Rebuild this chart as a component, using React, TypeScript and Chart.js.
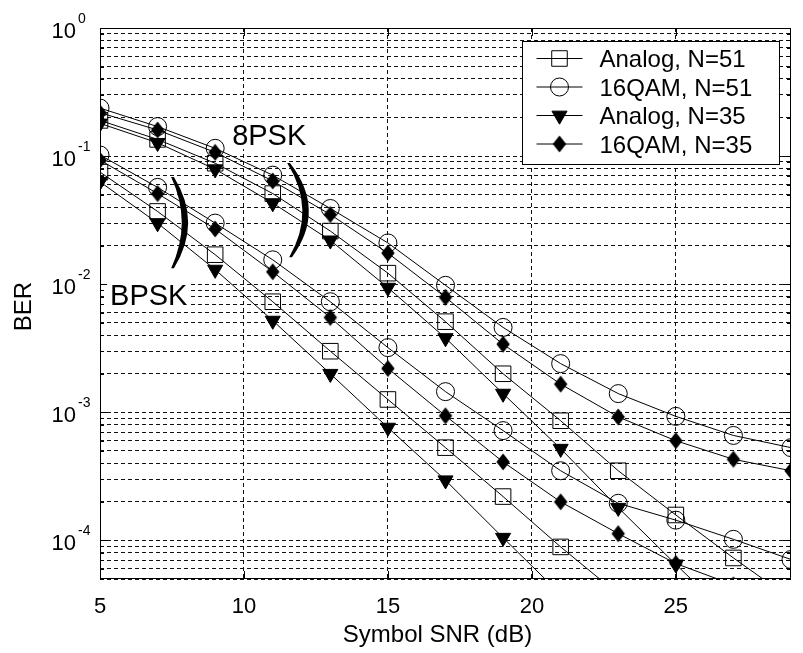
import React, { useEffect, useRef } from "react";
import { Chart, registerables } from "chart.js";

Chart.register(...registerables);

// ---------------- data ----------------
const SNR_DB = [5, 7, 9, 11, 13, 15, 17, 19, 21, 23, 25, 27, 29];
const X_TICKS = [5, 10, 15, 20, 25];
const X_MIN = 5;
const X_MAX = 29;
const Y_MIN = 5e-5;
const Y_MAX = 1;
const Y_LABEL_EXPONENTS = [0, -1, -2, -3, -4];

const SERIES_LABELS = ["Analog, N=51", "16QAM, N=51", "Analog, N=35", "16QAM, N=35"];

// BPSK group (lower curves)
const BPSK_ANALOG_N51 = [0.075, 0.037, 0.017, 0.0073, 0.003, 0.00126, 0.00053, 0.00022, 8.9e-5, 3.8e-5];
const BPSK_16QAM_N51 = [0.102, 0.057, 0.03, 0.0155, 0.0073, 0.0032, 0.00145, 0.00072, 0.00035, 0.000195, 0.000144, 0.000102, 7.1e-5];
const BPSK_ANALOG_N35 = [0.063, 0.03, 0.013, 0.0052, 0.002, 0.00076, 0.000295, 0.000105, 3.8e-5];
const BPSK_16QAM_N35 = [0.093, 0.051, 0.027, 0.0125, 0.0055, 0.0022, 0.00094, 0.00041, 0.0002, 0.000113, 6.6e-5, 4.5e-5];

// 8PSK group (upper curves)
const PSK8_ANALOG_N51 = [0.19, 0.135, 0.088, 0.051, 0.026, 0.0122, 0.0051, 0.002, 0.00086, 0.00035, 0.000158, 7.3e-5, 3.5e-5];
const PSK8_16QAM_N51 = [0.237, 0.17, 0.115, 0.071, 0.039, 0.021, 0.0098, 0.0046, 0.0024, 0.0014, 0.00093, 0.00066, 0.00053];
const PSK8_ANALOG_N35 = [0.18, 0.127, 0.079, 0.043, 0.022, 0.0094, 0.0038, 0.0014, 0.00052, 0.00018, 6.5e-5, 2.4e-5];
const PSK8_16QAM_N35 = [0.218, 0.16, 0.107, 0.064, 0.035, 0.0175, 0.0079, 0.0034, 0.00166, 0.00092, 0.0006, 0.00043, 0.00035];

const TEXT_8PSK = "8PSK";
const TEXT_BPSK = "BPSK";
const X_TITLE = "Symbol SNR (dB)";
const Y_TITLE = "BER";

// annotation anchors in data units
const ANNOT_8PSK_TEXT = { x: 9.59, y: 0.122 };
const ANNOT_BPSK_TEXT = { x: 5.35, y: 0.00686 };
const PAREN_8PSK = { xTop: 11.55, yTop: 0.0882, xBot: 11.62, yBot: 0.01625, xMid: 12.14 };
const PAREN_BPSK = { xTop: 7.52, yTop: 0.0686, xBot: 7.52, yBot: 0.01334, xMid: 7.95 };

// ---------------- styles ----------------
const FONT = '"Liberation Sans", Arial, Helvetica, sans-serif';
const R_RECT = 11;
const R_CIRCLE = 9;
const R_TRI = 8.7;

function makeDiamond(): HTMLCanvasElement {
  const c = document.createElement("canvas");
  c.width = 16;
  c.height = 20;
  const g = c.getContext("2d")!;
  g.fillStyle = "#000";
  g.beginPath();
  g.moveTo(8, 1.5);
  g.lineTo(14.7, 10);
  g.lineTo(8, 18.5);
  g.lineTo(1.3, 10);
  g.closePath();
  g.fill();
  return c;
}

type MarkerKind = "rect" | "circle" | "triangle" | "diamond";
const MARKER_KINDS: MarkerKind[] = ["rect", "circle", "triangle", "diamond"];

function drawMarker(ctx: CanvasRenderingContext2D, kind: MarkerKind, x: number, y: number, diamond: HTMLCanvasElement) {
  ctx.save();
  ctx.lineWidth = 1;
  ctx.strokeStyle = "#000";
  ctx.fillStyle = "#000";
  ctx.beginPath();
  if (kind === "rect") {
    const s = R_RECT * Math.SQRT1_2;
    ctx.rect(x - s, y - s, 2 * s, 2 * s);
    ctx.stroke();
  } else if (kind === "circle") {
    ctx.arc(x, y, R_CIRCLE, 0, Math.PI * 2);
    ctx.stroke();
  } else if (kind === "triangle") {
    const s = Math.sin(Math.PI / 3) * R_TRI;
    ctx.moveTo(x, y + R_TRI);
    ctx.lineTo(x - s, y - R_TRI / 2);
    ctx.lineTo(x + s, y - R_TRI / 2);
    ctx.closePath();
    ctx.fill();
    ctx.stroke();
  } else {
    ctx.drawImage(diamond, x - diamond.width / 2, y - diamond.height / 2);
  }
  ctx.restore();
}

function buildYTicks(): number[] {
  const out: number[] = [];
  for (let e = -5; e <= 0; e++) {
    for (let m = 1; m <= 9; m++) {
      const v = m * Math.pow(10, e);
      if (v >= Y_MIN * 0.999 && v <= Y_MAX * 1.0001) out.push(v);
      if (e === 0) break;
    }
  }
  return out;
}

function drawParen(ctx: CanvasRenderingContext2D, xs: any, ys: any, p: any) {
  const tx = xs.getPixelForValue(p.xTop);
  const ty = ys.getPixelForValue(p.yTop);
  const bx = xs.getPixelForValue(p.xBot);
  const by = ys.getPixelForValue(p.yBot);
  const mx = xs.getPixelForValue(p.xMid);
  const midY = (ty + by) / 2;
  const hEnd = 1.4;
  const hMid = 3.2;
  const ctrl = (m: number, a: number, b: number) => 2 * m - (a + b) / 2;
  ctx.save();
  ctx.fillStyle = "#000";
  ctx.beginPath();
  ctx.moveTo(tx + hEnd, ty);
  ctx.quadraticCurveTo(ctrl(mx + hMid, tx + hEnd, bx + hEnd), midY, bx + hEnd, by);
  ctx.lineTo(bx - hEnd, by);
  ctx.quadraticCurveTo(ctrl(mx - hMid, tx - hEnd, bx - hEnd), midY, tx - hEnd, ty);
  ctx.closePath();
  ctx.fill();
  ctx.restore();
}

function drawBoxedText(ctx: CanvasRenderingContext2D, text: string, x: number, baseline: number, size: number) {
  ctx.save();
  ctx.font = `${size}px ${FONT}`;
  ctx.textAlign = "left";
  ctx.textBaseline = "alphabetic";
  const w = ctx.measureText(text).width;
  const cap = size * 0.72;
  ctx.fillStyle = "#fff";
  ctx.fillRect(x - 3, baseline - cap - 4, w + 6, cap + 8);
  ctx.fillStyle = "#000";
  ctx.fillText(text, x, baseline);
  ctx.restore();
}

export default function App() {
  const ref = useRef<HTMLCanvasElement>(null);

  useEffect(() => {
    const canvas = ref.current!;
    const diamond = makeDiamond();
    const yTicks = buildYTicks();

    const toXY = (arr: number[]) => arr.map((v, i) => ({ x: SNR_DB[i], y: v }));
    const seriesArrays = [
      [BPSK_ANALOG_N51, BPSK_16QAM_N51, BPSK_ANALOG_N35, BPSK_16QAM_N35],
      [PSK8_ANALOG_N51, PSK8_16QAM_N51, PSK8_ANALOG_N35, PSK8_16QAM_N35],
    ];
    const groupNames = ["BPSK", "8PSK"];

    const pointCfg = (kind: MarkerKind) => {
      if (kind === "rect") return { pointStyle: "rect", pointRadius: R_RECT, pointBackgroundColor: "rgba(0,0,0,0)", pointRotation: 0 };
      if (kind === "circle") return { pointStyle: "circle", pointRadius: R_CIRCLE, pointBackgroundColor: "rgba(0,0,0,0)", pointRotation: 0 };
      if (kind === "triangle") return { pointStyle: "triangle", pointRadius: R_TRI, pointBackgroundColor: "#000", pointRotation: 180 };
      return { pointStyle: diamond, pointRadius: 8, pointBackgroundColor: "#000", pointRotation: 0 };
    };

    const datasets: any[] = [];
    seriesArrays.forEach((group, gi) => {
      group.forEach((arr, si) => {
        datasets.push({
          label: `${SERIES_LABELS[si]} (${groupNames[gi]})`,
          data: toXY(arr),
          borderColor: "#000",
          borderWidth: 1,
          pointBorderColor: "#000",
          pointBorderWidth: 1,
          fill: false,
          tension: 0,
          ...pointCfg(MARKER_KINDS[si]),
        });
      });
    });

    const deco = {
      id: "deco",
      beforeDraw(chart: any) {
        const { ctx, width, height } = chart;
        ctx.save();
        ctx.fillStyle = "#fff";
        ctx.fillRect(0, 0, width, height);
        ctx.restore();
      },
      afterDraw(chart: any) {
        const ctx: CanvasRenderingContext2D = chart.ctx;
        const ca = chart.chartArea;
        const xs = chart.scales.x;
        const ys = chart.scales.y;
        ctx.save();
        // frame
        ctx.strokeStyle = "#000";
        ctx.lineWidth = 1;
        ctx.setLineDash([]);
        ctx.strokeRect(Math.round(ca.left) + 0.5, Math.round(ca.top) + 0.5, Math.round(ca.right - ca.left) - 1, Math.round(ca.bottom - ca.top) - 1);
        // tick marks
        ctx.beginPath();
        X_TICKS.forEach((v) => {
          const px = Math.round(xs.getPixelForValue(v)) + 0.5;
          ctx.moveTo(px, ca.bottom);
          ctx.lineTo(px, ca.bottom - 8);
          ctx.moveTo(px, ca.top);
          ctx.lineTo(px, ca.top + 8);
        });
        yTicks.forEach((v) => {
          const py = Math.round(ys.getPixelForValue(v)) + 0.5;
          const major = Math.abs(Math.log10(v) - Math.round(Math.log10(v))) < 1e-6;
          const len = major ? 8 : 4;
          ctx.moveTo(ca.left, py);
          ctx.lineTo(ca.left + len, py);
          ctx.moveTo(ca.right, py);
          ctx.lineTo(ca.right - len, py);
        });
        ctx.stroke();

        // x tick labels
        ctx.fillStyle = "#000";
        ctx.font = `22px ${FONT}`;
        ctx.textAlign = "center";
        ctx.textBaseline = "alphabetic";
        X_TICKS.forEach((v) => {
          ctx.fillText(String(v), xs.getPixelForValue(v), ca.bottom + 34);
        });
        // y tick labels 10^e
        Y_LABEL_EXPONENTS.forEach((e) => {
          const py = ys.getPixelForValue(Math.pow(10, e));
          ctx.font = `22px ${FONT}`;
          ctx.textAlign = "right";
          ctx.fillText("10", ca.left - 24, py + 10);
          ctx.font = `14px ${FONT}`;
          ctx.textAlign = "left";
          ctx.fillText(String(e), ca.left - 22, py - 5);
        });
        // axis titles
        ctx.font = `24px ${FONT}`;
        ctx.textAlign = "center";
        ctx.fillText(X_TITLE, (ca.left + ca.right) / 2 - 8, ca.bottom + 63);
        ctx.save();
        ctx.translate(24, (ca.top + ca.bottom) / 2 + 3);
        ctx.rotate(-Math.PI / 2);
        ctx.textBaseline = "middle";
        ctx.fillText(Y_TITLE, 0, 0);
        ctx.restore();

        // group annotations
        drawBoxedText(ctx, TEXT_8PSK, xs.getPixelForValue(ANNOT_8PSK_TEXT.x), ys.getPixelForValue(ANNOT_8PSK_TEXT.y), 29);
        drawBoxedText(ctx, TEXT_BPSK, xs.getPixelForValue(ANNOT_BPSK_TEXT.x), ys.getPixelForValue(ANNOT_BPSK_TEXT.y), 29);
        drawParen(ctx, xs, ys, PAREN_8PSK);
        drawParen(ctx, xs, ys, PAREN_BPSK);

        // legend
        const lw = 257;
        const lh = 123;
        const lx = Math.round(ca.right - 12 - lw) + 0.5;
        const ly = Math.round(ca.top + 13) + 0.5;
        ctx.fillStyle = "#fff";
        ctx.fillRect(lx, ly, lw, lh);
        ctx.strokeStyle = "#000";
        ctx.lineWidth = 1;
        ctx.strokeRect(lx, ly, lw, lh);
        SERIES_LABELS.forEach((label, i) => {
          const cy = ly + 17 + i * 28.5;
          ctx.beginPath();
          ctx.moveTo(lx + 14, cy);
          ctx.lineTo(lx + 60, cy);
          ctx.stroke();
          drawMarker(ctx, MARKER_KINDS[i], lx + 37, cy, diamond);
          ctx.fillStyle = "#000";
          ctx.font = `24px ${FONT}`;
          ctx.textAlign = "left";
          ctx.textBaseline = "alphabetic";
          ctx.fillText(label, lx + 77, cy + 8.5);
        });
        ctx.restore();
      },
    };

    const chart = new Chart(canvas, {
      type: "line",
      data: { datasets },
      options: {
        animation: false,
        responsive: false,
        maintainAspectRatio: false,
        devicePixelRatio: 1,
        layout: { padding: { top: 28, right: 6, left: 0, bottom: 0 } },
        plugins: { legend: { display: false }, tooltip: { enabled: false }, title: { display: false } },
        scales: {
          x: {
            type: "linear",
            min: X_MIN,
            max: X_MAX,
            afterBuildTicks: (s: any) => {
              s.ticks = X_TICKS.map((v) => ({ value: v }));
            },
            afterFit: (s: any) => {
              s.height = 74;
            },
            ticks: { display: false },
            grid: { color: "#111", lineWidth: 1, drawTicks: false },
            border: { display: false, dash: [4, 3] },
          },
          y: {
            type: "logarithmic",
            min: Y_MIN,
            max: Y_MAX,
            afterBuildTicks: (s: any) => {
              s.ticks = yTicks.map((v) => ({ value: v }));
            },
            afterFit: (s: any) => {
              s.width = 100;
            },
            ticks: { display: false },
            grid: { color: "#111", lineWidth: 1, drawTicks: false },
            border: { display: false, dash: [4, 3] },
          },
        },
      } as any,
      plugins: [deco],
    });
    return () => chart.destroy();
  }, []);

  return (
    <div style={{ position: "fixed", left: 0, top: 0, width: 803, height: 653, background: "#fff" }}>
      <canvas ref={ref} width={803} height={653} style={{ width: 803, height: 653, display: "block" }} />
    </div>
  );
}
